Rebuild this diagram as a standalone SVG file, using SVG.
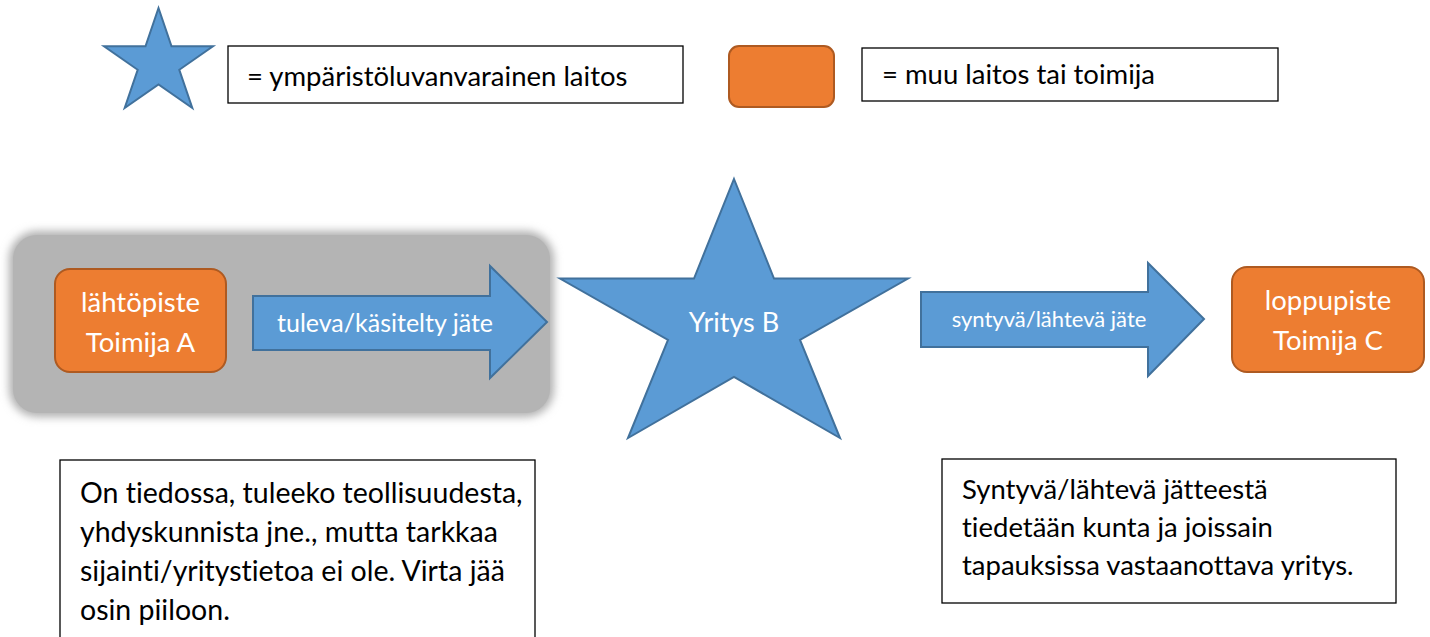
<svg xmlns="http://www.w3.org/2000/svg" width="1430" height="637" viewBox="0 0 1430 637">
<defs>
<style>
.star{fill:#5b9bd5;stroke:#41719c;stroke-width:2;stroke-linejoin:miter}
.arrow{fill:#5b9bd5;stroke:#41719c;stroke-width:2}
.org{fill:#ed7d31;stroke:#ae5a21;stroke-width:2}
.box{fill:#fff;stroke:#000;stroke-width:1.3}
.w{fill:#fff;font-family:Lato,"Open Sans",sans-serif;font-variant-ligatures:none}
.b{fill:#000;font-family:Lato,"Open Sans",sans-serif;font-variant-ligatures:none}
</style>
<filter id="soft" x="-10%" y="-10%" width="120%" height="120%">
<feGaussianBlur stdDeviation="4"/>
</filter>
</defs>
<rect width="1430" height="637" fill="#fff"/>
<g id="legend-star">
<polygon class="star" points="158.5,8 171.5,46.2 213,46.2 179.3,69.8 192.3,108 158.5,84.4 124.7,108 137.7,69.8 104,46.2 145.5,46.2"/>
</g>
<g id="legend-star-label">
<rect class="box" x="228" y="46" width="455" height="57"/>
<text class="b" x="247" y="86" font-size="27.5">= ympäristöluvanvarainen laitos</text>
</g>
<g id="legend-orange">
<rect class="org" x="729" y="46" width="105" height="61" rx="10"/>
</g>
<g id="legend-orange-label">
<rect class="box" x="862" y="48" width="416" height="53"/>
<text class="b" x="882" y="84" font-size="27.5">= muu laitos tai toimija</text>
</g>
<g id="hidden-area">
<rect x="9" y="231" width="545" height="186" rx="28" fill="#b0b0b0" filter="url(#soft)"/>
<rect x="13" y="235" width="537" height="178" rx="24" fill="#b4b4b4"/>
</g>
<g id="toimija-a">
<rect class="org" x="55" y="269" width="171" height="103" rx="15"/>
<text class="w" x="140.5" y="312" font-size="27.5" text-anchor="middle">lähtöpiste</text>
<text class="w" x="140.5" y="352" font-size="27.5" text-anchor="middle">Toimija A</text>
</g>
<g id="yritys-b">
<polygon class="star" points="734,179 774,278.5 908,278.5 800,340 840,438 734,377 628,438 668,340 560,278.5 694,278.5"/>
<text class="w" x="734" y="332" font-size="27" text-anchor="middle">Yritys B</text>
</g>
<g id="toimija-c">
<rect class="org" x="1232" y="267" width="192" height="105" rx="15"/>
<text class="w" x="1328" y="310" font-size="27.5" text-anchor="middle">loppupiste</text>
<text class="w" x="1328" y="350" font-size="27.5" text-anchor="middle">Toimija C</text>
</g>
<g id="connectors">
<polygon class="arrow" points="253,296 490,296 490,266 547,322 490,378 490,350 253,350"/>
<text class="w" x="385" y="332" font-size="25" text-anchor="middle">tuleva/käsitelty jäte</text>
<polygon class="arrow" points="921,292 1148,292 1148,263 1204,319 1148,376 1148,347 921,347"/>
<text class="w" x="1049" y="327" font-size="22" text-anchor="middle">syntyvä/lähtevä jäte</text>
</g>
<g id="note-a">
<rect class="box" x="60" y="460" width="475" height="190"/>
<text class="b" font-size="28.5">
<tspan x="80" y="503">On tiedossa, tuleeko teollisuudesta,</tspan>
<tspan x="80" y="542">yhdyskunnista jne., mutta tarkkaa</tspan>
<tspan x="80" y="581">sijainti/yritystietoa ei ole. Virta jää</tspan>
<tspan x="80" y="620">osin piiloon.</tspan>
</text>
</g>
<g id="note-c">
<rect class="box" x="942" y="459" width="454" height="144"/>
<text class="b" font-size="27.5">
<tspan x="962" y="499">Syntyvä/lähtevä jätteestä</tspan>
<tspan x="962" y="537">tiedetään kunta ja joissain</tspan>
<tspan x="962" y="575">tapauksissa vastaanottava yritys.</tspan>
</text>
</g>
</svg>
